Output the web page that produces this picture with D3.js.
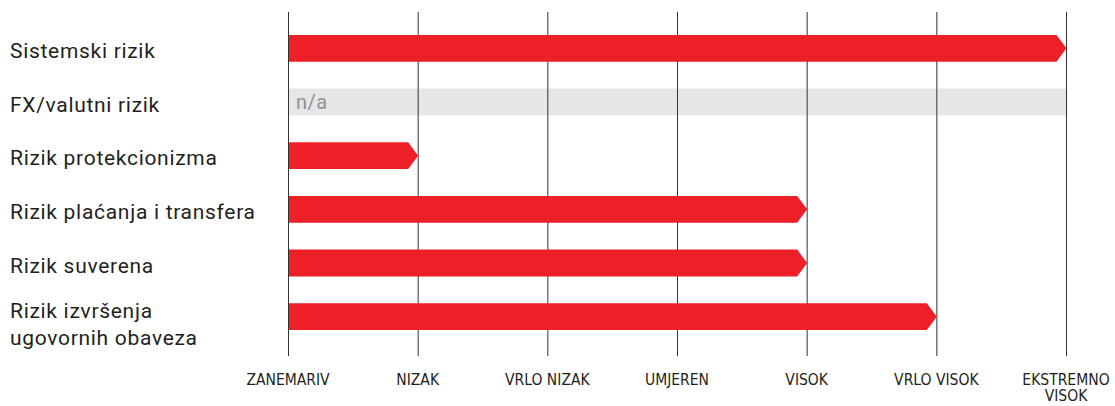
<!DOCTYPE html>
<html><head><meta charset="utf-8">
<script src="https://cdn.jsdelivr.net/npm/d3@7"></script>
<style>body{margin:0;background:#fff}svg{display:block}</style>
</head><body>
<svg id="c" width="1115" height="406"></svg>
<script>
const categories = [["Sistemski rizik"],["FX/valutni rizik"],["Rizik protekcionizma"],["Rizik plaćanja i transfera"],["Rizik suverena"],["Rizik izvršenja","ugovornih obaveza"]];
const values = [6, null, 1, 4, 4, 5];
const tickLabels = [["ZANEMARIV"],["NIZAK"],["VRLO NIZAK"],["UMJEREN"],["VISOK"],["VRLO VISOK"],["EKSTREMNO","VISOK"]];
const naLabel = "n/a";

const svg = d3.select("#c");
const x = d3.scaleLinear().domain([0,6]).range([288,1066]);
const y = d3.scaleBand().domain(d3.range(categories.length)).range([21.5,343.5]).paddingInner(0.5).paddingOuter(0.25);
const font = "Roboto, 'DejaVu Sans', sans-serif";

// n/a bands
values.forEach((v,i)=>{
  if(v===null){
    svg.append("rect").attr("x",x(0)).attr("y",y(i)).attr("width",x(6)-x(0)+1).attr("height",y.bandwidth()).attr("fill","#e5e6e8");
    svg.append("text").attr("x",x(0)+8).attr("y",y(i)+y.bandwidth()/2+7)
      .attr("font-family",font).attr("font-size",20).attr("letter-spacing",0.5).attr("fill","#929292").text(naLabel);
  }
});

// gridlines
svg.append("g").selectAll("line").data(d3.range(7)).join("line")
  .attr("x1",d=>x(d)+0.5).attr("x2",d=>x(d)+0.5).attr("y1",12).attr("y2",356)
  .attr("stroke","#333").attr("stroke-width",1);

// arrows
const tip = 10;
svg.append("g").selectAll("path").data(values.map((v,i)=>({v,i})).filter(d=>d.v!==null)).join("path")
  .attr("d",d=>{
    const x0=x(0)+1, x1=x(d.v)+0.5, y0=y(d.i), h=y.bandwidth();
    return `M${x0},${y0}L${x1-tip},${y0}L${x1},${y0+h/2}L${x1-tip},${y0+h}L${x0},${y0+h}Z`;
  }).attr("fill","#ed1f27");

// category labels
categories.forEach((lines,i)=>{
  const t = svg.append("text").attr("font-family",font).attr("font-size",21).attr("letter-spacing",0.7).attr("fill","#231f20");
  const cy = y(i)+y.bandwidth()/2;
  lines.forEach((l,j)=>{
    t.append("tspan").attr("x",10).attr("y",cy + 9.5 - (lines.length-1)*8 + j*27).text(l);
  });
});

// tick labels
tickLabels.forEach((lines,i)=>{
  const t = svg.append("text").attr("font-family","'DejaVu Sans Condensed', 'DejaVu Sans', sans-serif").attr("font-stretch","condensed")
    .attr("font-size",15.5).attr("fill","#231f20").attr("text-anchor","middle");
  lines.forEach((l,j)=>{
    t.append("tspan").attr("x",x(i)).attr("y",385+j*16).text(l);
  });
});
</script>
</body></html>
